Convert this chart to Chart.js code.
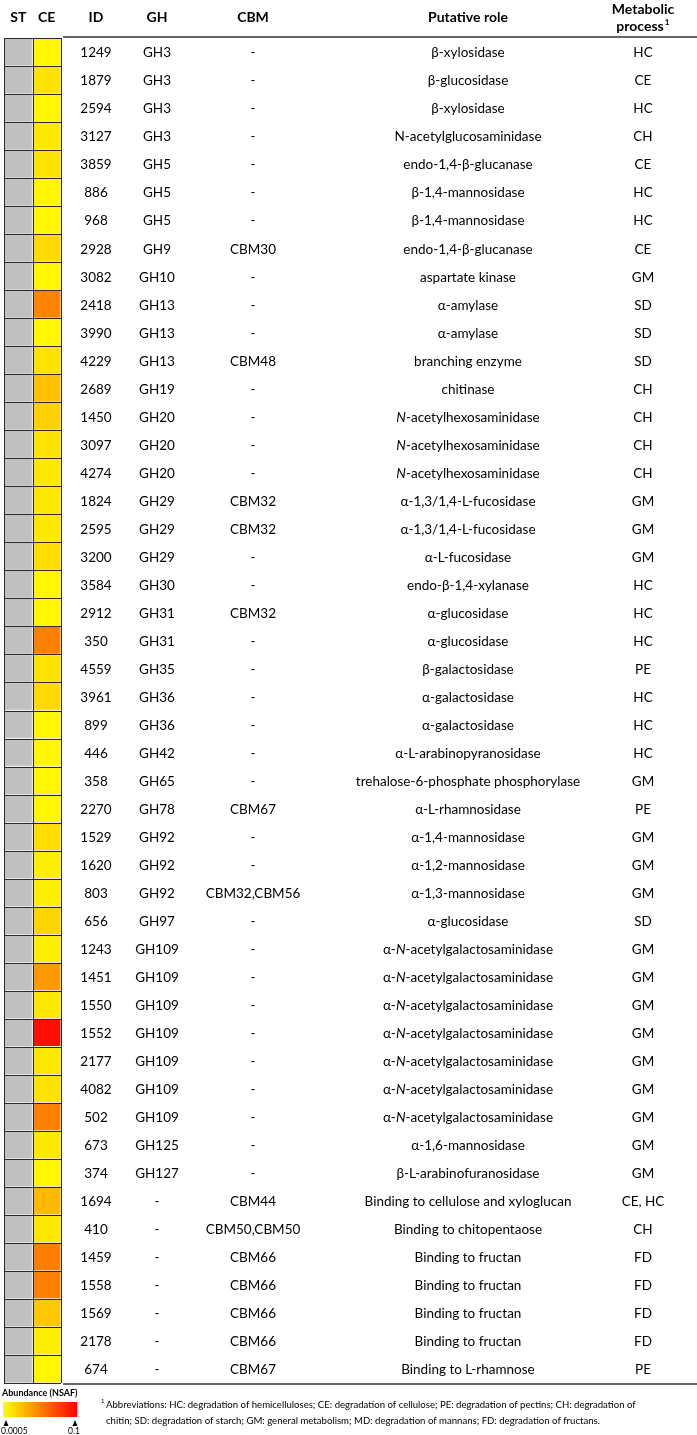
<!DOCTYPE html>
<html>
<head>
<meta charset="utf-8">
<script src="https://cdn.jsdelivr.net/npm/chart.js@4"></script>
<style>
  html, body { margin: 0; padding: 0; background: #fff; }
  canvas { display: block; }
</style>
</head>
<body>
<canvas id="heatChart" width="697" height="1435"></canvas>
<script>
// rows of the table, top to bottom
const ids = ['1249','1879','2594','3127','3859','886','968','2928','3082','2418','3990','4229','2689','1450','3097','4274',
  '1824','2595','3200','3584','2912','350','4559','3961','899','446','358','2270','1529','1620','803','656',
  '1243','1451','1550','1552','2177','4082','502','673','374','1694','410','1459','1558','1569','2178','674'];
const ghFamilies = ['GH3','GH3','GH3','GH3','GH5','GH5','GH5','GH9','GH10','GH13','GH13','GH13','GH19','GH20','GH20','GH20',
  'GH29','GH29','GH29','GH30','GH31','GH31','GH35','GH36','GH36','GH42','GH65','GH78','GH92','GH92','GH92','GH97',
  'GH109','GH109','GH109','GH109','GH109','GH109','GH109','GH125','GH127','-','-','-','-','-','-','-'];
const cbmModules = ['-','-','-','-','-','-','-','CBM30','-','-','-','CBM48','-','-','-','-',
  'CBM32','CBM32','-','-','CBM32','-','-','-','-','-','-','CBM67','-','-','CBM32,CBM56','-',
  '-','-','-','-','-','-','-','-','-','CBM44','CBM50,CBM50','CBM66','CBM66','CBM66','CBM66','CBM67'];
// _N_ marks italic text
const roles = ['β-xylosidase','β-glucosidase','β-xylosidase','N-acetylglucosaminidase','endo-1,4-β-glucanase',
  'β-1,4-mannosidase','β-1,4-mannosidase','endo-1,4-β-glucanase','aspartate kinase','α-amylase','α-amylase',
  'branching enzyme','chitinase','_N_-acetylhexosaminidase','_N_-acetylhexosaminidase','_N_-acetylhexosaminidase',
  'α-1,3/1,4-L-fucosidase','α-1,3/1,4-L-fucosidase','α-L-fucosidase','endo-β-1,4-xylanase','α-glucosidase',
  'α-glucosidase','β-galactosidase','α-galactosidase','α-galactosidase','α-L-arabinopyranosidase',
  'trehalose-6-phosphate phosphorylase','α-L-rhamnosidase','α-1,4-mannosidase','α-1,2-mannosidase',
  'α-1,3-mannosidase','α-glucosidase','α-_N_-acetylgalactosaminidase','α-_N_-acetylgalactosaminidase',
  'α-_N_-acetylgalactosaminidase','α-_N_-acetylgalactosaminidase','α-_N_-acetylgalactosaminidase',
  'α-_N_-acetylgalactosaminidase','α-_N_-acetylgalactosaminidase','α-1,6-mannosidase','β-L-arabinofuranosidase',
  'Binding to cellulose and xyloglucan','Binding to chitopentaose','Binding to fructan','Binding to fructan',
  'Binding to fructan','Binding to fructan','Binding to L-rhamnose'];
const processes = ['HC','CE','HC','CH','CE','HC','HC','CE','GM','SD','SD','SD','CH','CH','CH','CH',
  'GM','GM','GM','HC','HC','HC','PE','HC','HC','HC','GM','PE','GM','GM','GM','SD',
  'GM','GM','GM','GM','GM','GM','GM','GM','GM','CE, HC','CH','FD','FD','FD','FD','PE'];

// abundance (NSAF) in CE; ST not detected (grey)
const ceValues = [0.0006,0.0009,0.0006,0.0008,0.0009,0.0006,0.0006,0.0011,0.0006,0.0065,0.0006,0.0009,0.0018,0.0013,0.0009,0.0008,
  0.0008,0.0008,0.0010,0.0006,0.0006,0.0072,0.0009,0.0011,0.0006,0.0006,0.0006,0.0006,0.0010,0.0007,0.0007,0.0012,
  0.0007,0.0042,0.0008,0.075,0.0008,0.0009,0.0070,0.0008,0.0006,0.0021,0.0008,0.0075,0.0072,0.0016,0.0007,0.0006];
const stValues = ids.map(() => null);

const scaleMin = 0.0005, scaleMax = 0.1;
const scaleLabels = ['0.0005', '0.1'];

function nsafColor(v) {
  if (v == null) return '#c0c0c0';
  let t = Math.log(v / scaleMin) / Math.log(scaleMax / scaleMin);
  t = Math.max(0, Math.min(1, t));
  return 'rgb(255,' + Math.round(255 * (1 - t)) + ',0)';
}

const FONT = 'Lato, "Open Sans", sans-serif';
const ROW_SIZE = 13.5;

function drawRich(ctx, text, cx, y, size) {
  const parts = text.split('_');
  let total = 0;
  parts.forEach((p, k) => {
    ctx.font = (k % 2 ? 'italic ' : '') + size + 'px ' + FONT;
    total += ctx.measureText(p).width;
  });
  let x = cx - total / 2;
  ctx.textAlign = 'left';
  parts.forEach((p, k) => {
    ctx.font = (k % 2 ? 'italic ' : '') + size + 'px ' + FONT;
    ctx.fillText(p, x, y);
    x += ctx.measureText(p).width;
  });
}

const tableText = {
  id: 'tableText',
  afterDatasetsDraw(chart) {
    const ctx = chart.ctx;
    const xs = chart.scales.x, ys = chart.scales.y;
    const area = chart.chartArea;
    ctx.save();

    // dark grid between heatmap cells
    ctx.strokeStyle = '#2b2b2b';
    ctx.lineWidth = 1;
    for (let i = 0; i <= ids.length; i++) {
      const y = Math.round(ys.getPixelForValue(i - 0.5)) + 0.5;
      ctx.beginPath(); ctx.moveTo(xs.getPixelForValue(0), y); ctx.lineTo(xs.getPixelForValue(2), y); ctx.stroke();
    }
    [0, 1, 2].forEach(v => {
      const x = Math.round(xs.getPixelForValue(v)) + 0.5;
      ctx.beginPath(); ctx.moveTo(x, area.top); ctx.lineTo(x, area.bottom); ctx.stroke();
    });

    // header
    ctx.fillStyle = '#000';
    ctx.textBaseline = 'middle';
    ctx.textAlign = 'center';
    ctx.font = 'bold 14px ' + FONT;
    ctx.fillText('ST', xs.getPixelForValue(0.5), 17);
    ctx.fillText('CE', xs.getPixelForValue(1.5), 17);
    ctx.fillText('ID', 96, 17);
    ctx.fillText('GH', 157, 17);
    ctx.fillText('CBM', 253, 17);
    ctx.fillText('Putative role', 468, 17);
    ctx.fillText('Metabolic', 643, 9);
    const pw = ctx.measureText('process').width;
    ctx.fillText('process', 643 - 3, 26);
    ctx.font = 'bold 8px ' + FONT;
    ctx.textAlign = 'left';
    ctx.fillText('1', 643 - 3 + pw / 2 + 1, 22);

    // rules
    ctx.strokeStyle = '#333';
    ctx.lineWidth = 1.5;
    ctx.beginPath(); ctx.moveTo(63, 37); ctx.lineTo(697, 37); ctx.stroke();
    ctx.beginPath(); ctx.moveTo(63, area.bottom + 1); ctx.lineTo(697, area.bottom + 1); ctx.stroke();

    // rows
    ids.forEach((id, i) => {
      const y = ys.getPixelForValue(i) + 1;
      ctx.textAlign = 'center';
      ctx.font = ROW_SIZE + 'px ' + FONT;
      ctx.fillText(id, 96, y);
      ctx.fillText(ghFamilies[i], 157, y);
      ctx.fillText(cbmModules[i], 253, y);
      ctx.fillText(processes[i], 643, y);
      drawRich(ctx, roles[i], 468, y, ROW_SIZE);
    });

    // colour scale legend
    ctx.textAlign = 'left';
    ctx.font = 'bold 9px ' + FONT;
    ctx.fillText('Abundance (NSAF)', 2, 1393);
    const g = ctx.createLinearGradient(3, 0, 77, 0);
    g.addColorStop(0, nsafColor(scaleMin));
    g.addColorStop(0.5, 'rgb(255,128,0)');
    g.addColorStop(1, nsafColor(scaleMax));
    ctx.fillStyle = g;
    ctx.fillRect(3, 1402, 74, 15);
    ctx.fillStyle = '#000';
    [[6, scaleLabels[0]], [75, scaleLabels[1]]].forEach(([x, lab], k) => {
      ctx.beginPath(); ctx.moveTo(x - 2.5, 1426); ctx.lineTo(x + 2.5, 1426); ctx.lineTo(x, 1420); ctx.closePath(); ctx.fill();
      ctx.font = '8.5px ' + FONT;
      ctx.textAlign = k ? 'center' : 'left';
      ctx.fillText(lab, k ? x - 1 : 1, 1431);
    });

    // footnote
    ctx.textAlign = 'left';
    ctx.font = '6px ' + FONT;
    ctx.fillText('1', 101, 1401);
    ctx.font = '9.6px ' + FONT;
    ctx.fillText('Abbreviations: HC: degradation of hemicelluloses; CE: degradation of cellulose; PE: degradation of pectins; CH: degradation of', 106, 1405);
    ctx.fillText('chitin; SD: degradation of starch; GM: general metabolism; MD: degradation of mannans; FD: degradation of fructans.', 106, 1421);
    ctx.restore();
  }
};

new Chart(document.getElementById('heatChart'), {
  type: 'bar',
  data: {
    labels: ids,
    datasets: [
      { label: 'ST', data: ids.map(() => [0, 1]), backgroundColor: stValues.map(nsafColor) },
      { label: 'CE', data: ids.map(() => [1, 2]), backgroundColor: ceValues.map(nsafColor) }
    ]
  },
  options: {
    indexAxis: 'y',
    responsive: false,
    animation: false,
    layout: { padding: { left: 4, right: 636, top: 38, bottom: 52 } },
    scales: {
      x: { type: 'linear', min: 0, max: 2, display: false },
      y: { display: false }
    },
    datasets: {
      bar: { grouped: false, barPercentage: 1, categoryPercentage: 1, borderWidth: 1, borderColor: '#e6e6e6', borderSkipped: false }
    },
    plugins: { legend: { display: false }, tooltip: { enabled: false } }
  },
  plugins: [tableText]
});
</script>
</body>
</html>
